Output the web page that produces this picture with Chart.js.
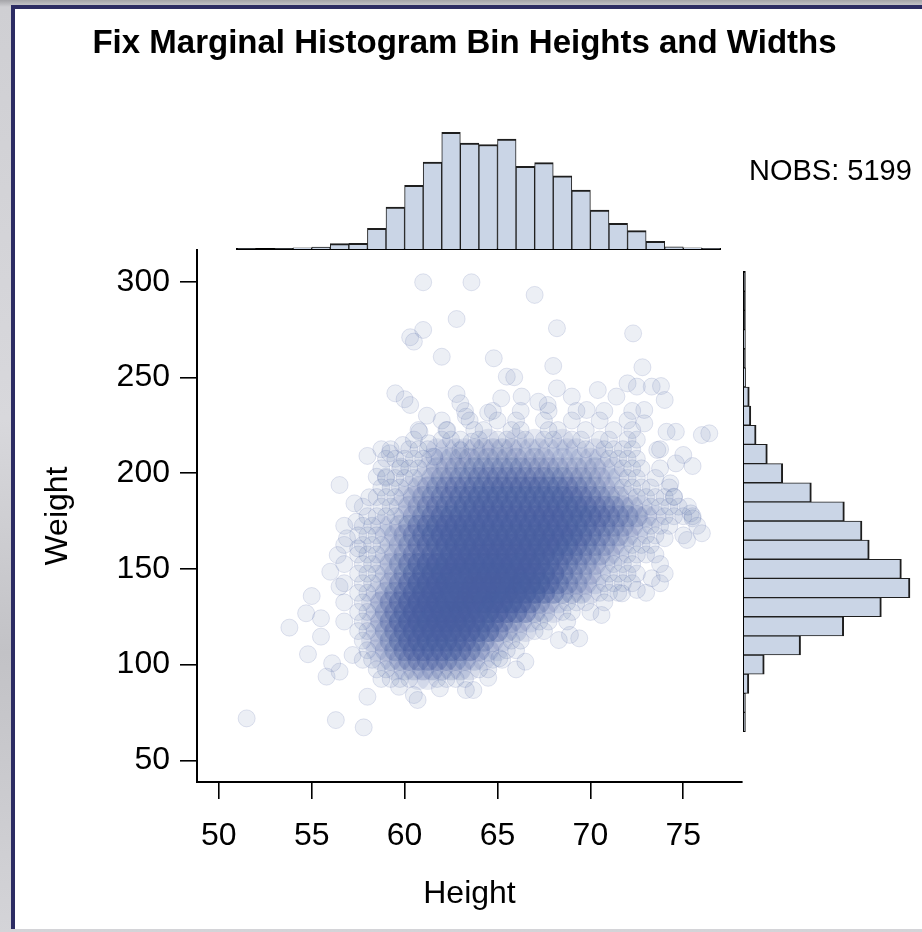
<!DOCTYPE html>
<html>
<head>
<meta charset="utf-8">
<title>Marginal histograms</title>
<script src="https://cdn.jsdelivr.net/npm/chart.js@4.4.1/dist/chart.umd.min.js"></script>
<style>
  html, body { margin: 0; padding: 0; }
  body {
    width: 922px; height: 932px; overflow: hidden; position: relative;
    background: linear-gradient(180deg, #a4a4a8 0px, #cfcfd3 7px, #d8d8dc 45%, #c2c2c6 70%, #d4d4d8 100%);
    font-family: "Liberation Sans", Arial, sans-serif;
  }
  #panel {
    position: absolute; left: 11px; top: 5px; width: 930px; height: 924px;
    box-sizing: border-box; background: #fff;
    border-left: 4px solid #2c2c63; border-top: 4px solid #2c2c63;
  }
  canvas { position: absolute; left: 0; top: 0; }
  #title {
    position: absolute; left: 0; top: 25px; width: 929px; text-align: center;
    font-weight: bold; font-size: 33px; line-height: 33px; color: #000;
  }
  #nobs {
    position: absolute; left: 749px; top: 156px;
    font-size: 29px; line-height: 29px; color: #000;
  }
</style>
</head>
<body>
<div id="panel"></div>
<canvas id="scatter" width="922" height="932"></canvas>
<canvas id="topHist" width="922" height="932"></canvas>
<canvas id="sideHist" width="922" height="932"></canvas>
<div id="title">Fix Marginal Histogram Bin Heights and Widths</div>
<div id="nobs">NOBS: 5199</div>

<script>
// ---- data ----
const xTickValues = [50, 55, 60, 65, 70, 75];
const yTickValues = [50, 100, 150, 200, 250, 300];

// height histogram: 1 inch bins starting at these values
const heightBinStarts = [51, 52, 53, 54, 55, 56, 57, 58, 59, 60, 61, 62, 63,
                         64, 65, 66, 67, 68, 69, 70, 71, 72, 73, 74, 75, 76];
const heightCounts = [1, 0, 1, 6, 10, 26, 28, 101, 206, 312, 426, 572, 519,
                      512, 539, 405, 423, 359, 289, 191, 126, 90, 38, 11, 6, 2];

// weight histogram: 10 lb bins starting at these values
const weightBinStarts = [65, 75, 85, 95, 105, 115, 125, 135, 145, 155, 165, 175,
                         185, 195, 205, 215, 225, 235, 245, 255, 265, 275, 285, 295];
const weightCounts = [3, 3, 22, 92, 257, 453, 624, 754, 715, 569, 536, 456,
                      306, 176, 106, 55, 31, 24, 7, 2, 4, 1, 1, 2];

// binned scatter density: one row per 5 lb band (centre weight below),
// one base-36 count per half inch of height from 54 in, grouped by inch;
// alternate rows sit a quarter inch to the right (hex-style binning)
const gridStartHeight = 54;
const gridWeights = [232.5, 227.5, 222.5, 217.5, 212.5, 207.5, 202.5, 197.5,
                     192.5, 187.5, 182.5, 177.5, 172.5, 167.5, 162.5, 157.5,
                     152.5, 147.5, 142.5, 137.5, 132.5, 127.5, 122.5, 117.5,
                     112.5, 107.5, 102.5, 97.5, 92.5];
const gridRows = [
  "00 00 00 00 00 00 00 00 00 10 01 00 10 01 00 10 01 00 10",
  "00 00 00 00 00 00 00 01 00 10 01 01 00 10 01 00 10 01 00",
  "00 00 00 00 00 00 01 00 10 01 10 01 10 01 10 01 00 10 10",
  "00 00 00 00 00 00 10 01 11 01 21 12 12 11 21 10 11 01 10",
  "00 00 00 00 01 10 11 12 22 23 33 33 22 22 22 21 21 11 10 01",
  "00 00 00 00 01 11 11 22 33 33 33 33 33 32 22 22 21 11 10",
  "00 00 00 00 01 01 11 23 34 45 55 55 54 44 43 33 32 21 11 01",
  "00 00 00 00 01 11 12 34 45 56 66 66 66 65 54 43 32 21 10 10",
  "00 00 00 00 01 11 23 45 67 78 89 99 99 98 87 65 43 21 11 10 10",
  "00 00 00 00 11 12 34 56 78 9a aa aa aa aa a9 76 54 32 11 11 10",
  "00 00 00 01 01 12 34 67 89 ab bb bb bb bb ba a9 76 54 32 11 11 10",
  "00 00 00 01 11 12 45 79 ab bc cc cc cc cc cb ba 97 65 43 21 11 10",
  "00 00 01 01 12 23 57 9b cd dd dd dd dd dc cb a8 76 54 32 11 10 01",
  "00 00 00 11 12 34 68 ac de ee ee ee ee ed dc a8 65 43 21 10 01",
  "00 00 01 01 11 23 57 9b de ef ff ff fe ed ca 86 54 32 11 10",
  "00 00 00 11 12 34 67 9b df fg gg gg gf ec a8 65 43 21 11 10",
  "00 00 01 01 12 35 7b dg hi ij jj ji hg eb 86 54 32 11 10 01",
  "00 00 00 11 12 35 8b eh ij jk kk kj ig db 75 43 21 11 10 01",
  "00 00 01 01 12 46 9d fi kl lm mm ml kh ea 75 43 21 11 10 01",
  "00 00 00 11 23 57 be gi kl mn nm lk he a7 54 32 11 10 01",
  "00 00 01 01 24 69 cg ij kl mm lk hf b8 53 21 11 01",
  "00 00 00 11 24 69 dg ij kk ji hf ca 74 32 11 01",
  "00 00 01 01 24 6a dg hi ji gd b8 64 32 11 01",
  "00 00 00 11 24 69 ce fg gf ec a7 43 21 10",
  "00 00 00 01 23 58 bc dd db 97 53 21 10",
  "00 00 00 01 23 57 9a aa a9 75 32 11",
  "00 00 00 01 12 34 67 77 65 43 21 10",
  "00 00 00 00 11 23 34 44 33 21 10 01",
  "00 00 00 00 01 11 12 21 11 10"
];

// individual observations away from the dense cloud: [height, weight]
const outlierPoints = [
  [61.0, 299.7], [63.6, 299.7], [62.8, 280.5], [61.0, 274.8], [60.3, 271.0], [60.5, 268.7],
  [62.0, 260.8], [59.5, 241.7], [60.0, 238.6], [60.3, 235.6], [62.8, 241.3], [61.2, 230.0],
  [63.0, 236.5], [60.8, 221.6], [61.3, 215.6], [59.9, 214.7], [58.0, 209.0], [59.2, 210.4],
  [58.5, 198.1], [56.5, 193.8], [57.3, 184.2], [58.1, 187.4], [59.0, 198.1], [59.8, 203.4],
  [61.6, 208.6], [62.3, 222.5], [63.0, 212.0], [63.6, 216.4], [63.3, 229.5],
  [67.0, 293.1], [68.2, 275.7], [72.3, 273.0], [64.8, 260.0], [68.0, 256.0], [72.8, 255.3],
  [65.5, 250.4], [65.9, 250.1], [68.2, 244.3], [70.4, 243.4], [72.0, 246.9], [72.5, 245.2],
  [73.3, 245.2], [73.8, 245.5], [74.0, 238.2], [65.2, 239.1], [66.3, 240.0], [67.2, 237.3],
  [69.0, 240.0], [71.4, 240.0], [64.5, 231.6], [72.9, 226.0], [74.1, 221.6], [74.6, 221.6],
  [76.0, 219.9], [76.4, 220.8], [75.0, 209.5], [75.5, 203.7], [74.6, 205.1], [74.3, 194.7],
  [74.5, 187.7], [75.4, 179.0], [73.6, 212.1], [72.9, 233.0], [67.7, 235.6], [69.8, 233.0],
  [51.5, 71.9], [56.3, 71.0], [57.8, 67.2], [53.8, 119.3], [55.0, 135.8], [54.7, 126.8],
  [54.8, 105.4], [55.8, 93.7], [58.0, 83.2], [60.7, 81.5], [56.0, 148.5], [56.5, 140.7],
  [55.5, 124.2], [55.5, 114.6], [56.9, 166.0], [57.5, 160.7], [56.4, 157.2], [57.4, 174.6],
  [56.5, 96.3], [59.7, 88.4], [60.5, 84.1], [61.9, 87.6], [63.3, 86.7], [57.2, 105.0],
  [56.1, 100.7],
  [66.5, 101.5], [64.5, 93.1], [63.7, 86.7], [68.3, 112.8], [69.4, 113.7], [73.3, 145.1],
  [72.5, 139.0], [74.0, 166.0], [75.2, 165.1], [76.0, 168.6], [75.5, 176.4], [70.6, 125.9],
  [65.1, 103.3], [68.9, 115.5], [71.7, 137.2]
];

// ---- layout ----
const FONT = '"Liberation Sans", Arial, sans-serif';
const W = 922, H = 932;
const plot = { left: 197, right: 742, top: 250, bottom: 782 };
const X_MIN = 48.827, X_MAX = 78.16;
const Y_MIN = 38.665, Y_MAX = 316.56;
const markerRGB = '72, 94, 160';
const barFill = '#cad5e6';
const barEdge = '#1e1e1e';
const MARKER_R = 8.5;      // one observation
const CELL_R = 11;         // a binned cell, drawn wider so neighbours blend
const CELL_SPREAD = 0.667; // share of a cell's markers falling on any one spot

function xPix(v) { return plot.left + (v - X_MIN) * (plot.right - plot.left) / (X_MAX - X_MIN); }
function yPix(v) { return plot.bottom - (v - Y_MIN) * (plot.bottom - plot.top) / (Y_MAX - Y_MIN); }

Chart.defaults.font.family = FONT;
Chart.defaults.color = '#000';

// expand the density rows into one marker per occupied cell
const cells = [];
gridRows.forEach((row, r) => {
  const shift = (r % 2) * 0.25;
  row.replace(/ /g, '').split('').forEach((ch, i) => {
    const n = parseInt(ch, 36);
    if (n > 0) cells.push({ x: gridStartHeight + 0.25 + shift + 0.5 * i, y: gridWeights[r], n: n });
  });
});

// markers are 10% opaque; a lone observation keeps its own circle
function cellCount(c) { return c.raw ? c.raw.n : 1; }
function cellAlpha(n) { return n === 1 ? 0.1 : 1 - Math.pow(0.9, n * CELL_SPREAD); }

new Chart(document.getElementById('scatter'), {
  type: 'scatter',
  data: {
    datasets: [
      {
        data: cells,
        pointRadius: c => (cellCount(c) === 1 ? MARKER_R : CELL_R),
        borderWidth: c => (cellCount(c) === 1 ? 1 : 0),
        backgroundColor: c => `rgba(${markerRGB}, ${cellAlpha(cellCount(c)).toFixed(3)})`,
        borderColor: `rgba(${markerRGB}, 0.16)`
      },
      {
        data: outlierPoints.map(p => ({ x: p[0], y: p[1] })),
        pointRadius: MARKER_R,
        borderWidth: 1,
        backgroundColor: `rgba(${markerRGB}, 0.1)`,
        borderColor: `rgba(${markerRGB}, 0.16)`
      }
    ]
  },
  options: {
    responsive: false,
    animation: false,
    events: [],
    layout: { padding: { left: 0, top: plot.top, right: W - plot.right, bottom: 0 } },
    plugins: { legend: { display: false }, tooltip: { enabled: false } },
    scales: {
      x: {
        type: 'linear', min: X_MIN, max: X_MAX,
        afterFit: s => { s.height = H - plot.bottom; },
        afterBuildTicks: s => { s.ticks = xTickValues.map(v => ({ value: v })); },
        grid: { drawOnChartArea: false, drawTicks: true, tickLength: 17, color: '#000', lineWidth: 1.6 },
        border: { display: true, color: '#000', width: 2 },
        ticks: { font: { size: 32 }, padding: 18, maxRotation: 0, color: '#000' },
        title: { display: true, text: 'Height', font: { size: 32 }, color: '#000', padding: { top: 0, bottom: 19 } }
      },
      y: {
        type: 'linear', min: Y_MIN, max: Y_MAX,
        afterFit: s => { s.width = plot.left; },
        afterBuildTicks: s => { s.ticks = yTickValues.map(v => ({ value: v })); },
        grid: { drawOnChartArea: false, drawTicks: true, tickLength: 17, color: '#000', lineWidth: 1.6 },
        border: { display: true, color: '#000', width: 2 },
        ticks: { font: { size: 32 }, padding: 10, color: '#000' },
        title: { display: true, text: 'Weight', font: { size: 32 }, color: '#000', padding: { top: 39, bottom: 0 } }
      }
    }
  }
});

// top margin: height histogram sharing the scatter's x mapping
const topBase = 249, topMax = 640, topAreaH = 130.6;
new Chart(document.getElementById('topHist'), {
  type: 'bar',
  data: {
    datasets: [{
      data: heightBinStarts.map((b, i) => ({ x: b + 0.5, y: heightCounts[i] })),
      backgroundColor: barFill,
      borderColor: barEdge,
      borderWidth: { top: 2, left: 1, right: 1, bottom: 0 },
      borderSkipped: 'bottom',
      barPercentage: 1,
      categoryPercentage: 1
    }]
  },
  options: {
    responsive: false,
    animation: false,
    events: [],
    layout: { padding: {
      left: xPix(heightBinStarts[0]),
      right: W - xPix(heightBinStarts[heightBinStarts.length - 1] + 1),
      top: topBase - topAreaH,
      bottom: H - topBase
    } },
    plugins: { legend: { display: false }, tooltip: { enabled: false } },
    scales: {
      x: {
        type: 'linear', offset: false,
        min: heightBinStarts[0], max: heightBinStarts[heightBinStarts.length - 1] + 1,
        afterFit: s => { s.height = 0; },
        grid: { display: false, drawTicks: false },
        ticks: { display: false },
        border: { display: true, color: '#000', width: 2 }
      },
      y: { display: false, min: 0, max: topMax }
    }
  }
});

// right margin: weight histogram sharing the scatter's y mapping
const sideBase = 744, sideMax = 800, sideAreaW = 176.1;
new Chart(document.getElementById('sideHist'), {
  type: 'bar',
  data: {
    datasets: [{
      data: weightBinStarts.map((b, i) => ({ x: weightCounts[i], y: b + 5 })),
      backgroundColor: barFill,
      borderColor: barEdge,
      borderWidth: { right: 2, top: 1, bottom: 1, left: 0 },
      borderSkipped: 'left',
      barPercentage: 1,
      categoryPercentage: 1
    }]
  },
  options: {
    indexAxis: 'y',
    responsive: false,
    animation: false,
    events: [],
    layout: { padding: {
      left: sideBase,
      right: W - sideBase - sideAreaW,
      top: yPix(weightBinStarts[weightBinStarts.length - 1] + 10),
      bottom: H - yPix(weightBinStarts[0])
    } },
    plugins: { legend: { display: false }, tooltip: { enabled: false } },
    scales: {
      y: {
        type: 'linear', offset: false,
        min: weightBinStarts[0], max: weightBinStarts[weightBinStarts.length - 1] + 10,
        afterFit: s => { s.width = 0; },
        grid: { display: false, drawTicks: false },
        ticks: { display: false },
        border: { display: true, color: '#000', width: 2.5 }
      },
      x: { display: false, min: 0, max: sideMax }
    }
  }
});
</script>
</body>
</html>
